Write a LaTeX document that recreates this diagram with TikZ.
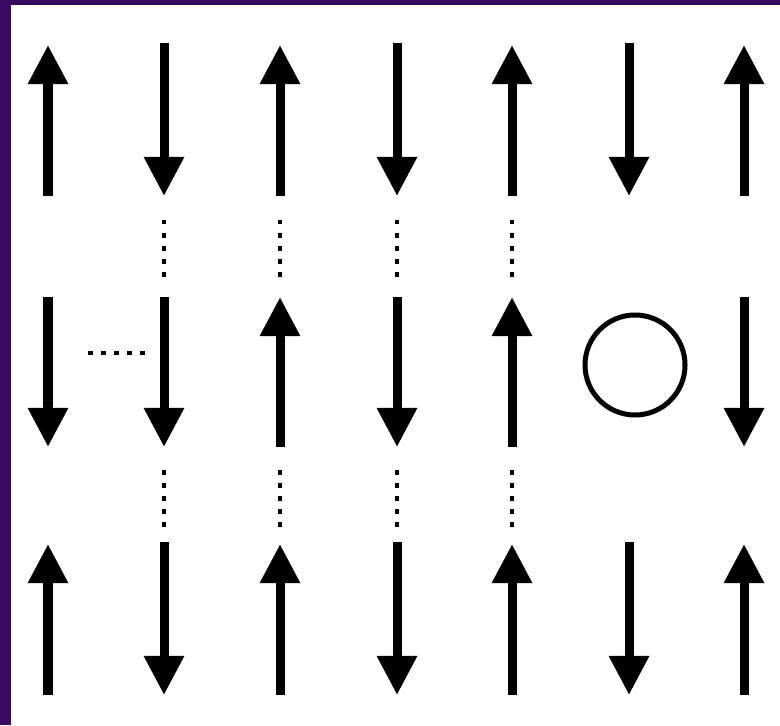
\documentclass[tikz,border=0pt]{standalone}
\usepackage{tikz}
\usetikzlibrary{arrows.meta}
\definecolor{framepurple}{RGB}{56,10,98}

\begin{document}
\begin{tikzpicture}[x=0.01cm,y=-0.01cm]
\tikzset{spin/.style={line width=0.09cm,-{Triangle[width=0.38cm,length=0.39cm]}}}
\tikzset{bond/.style={line width=0.045cm,dash pattern=on 0.045cm off 0.085cm}}
%Frame
\fill[framepurple] (0,0) rectangle (780,725);
\fill[white] (11,5) rectangle (780,725);

%Top row
\foreach \x in {48,280,512,744}
\draw[spin] (\x,196) -- (\x,45);
\foreach \x in {164,397,629}
\draw[spin] (\x,43) -- (\x,196);

%Middle row
\foreach \x in {48,164,397,744}
\draw[spin] (\x,297) -- (\x,447);
\foreach \x in {280,512}
\draw[spin] (\x,447) -- (\x,297);
\draw[line width=0.05cm] (635,365) circle (50);

%Bottom row
\foreach \x in {48,280,512,744}
\draw[spin] (\x,695) -- (\x,544);
\foreach \x in {164,397,629}
\draw[spin] (\x,542) -- (\x,695);

%Bonds
\foreach \x in {164,280,397,512}
{
\draw[bond] (\x,220) -- (\x,277);
\draw[bond] (\x,470) -- (\x,527);
}
\draw[bond] (88,353) -- (147,353);

\end{tikzpicture}
\end{document}
